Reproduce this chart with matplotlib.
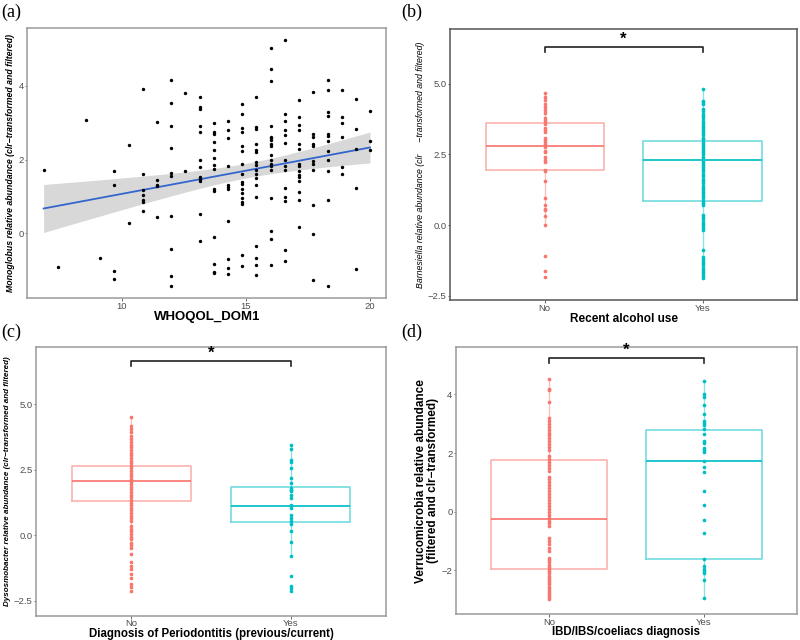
import numpy as np
import matplotlib
matplotlib.use("Agg")
import matplotlib.pyplot as plt

plt.rcParams['font.family'] = ['Liberation Sans', 'DejaVu Sans']

RED = '#F8766D'
CYAN = '#00BFC4'

# ---- panel (a): WHOQOL_DOM1 vs Monoglobus ----
dom1_levels = [6.86, 7.43, 8.57, 9.14, 9.71, 10.29, 10.86, 11.43, 12.0, 12.57, 13.14,
               13.71, 14.29, 14.86, 15.43, 16.0, 16.57, 17.14, 17.71, 18.29, 18.86,
               19.43, 20.0]
monoglobus_by_level = [
    [1.71],
    [-0.92],
    [3.06],
    [-0.68],
    [1.69, 1.32, -1.01, -1.25],
    [2.40, 0.29],
    [3.91, 1.62, 1.17, 1.04, 0.90, 0.86, 0.61],
    [3.01, 1.44, 1.32, 1.28, 0.43],
    [4.17, 3.52, 2.92, 2.32, 1.64, 1.56, 0.47, -0.43, -1.17, -1.42],
    [3.81, 1.69],
    [3.69, 3.42, 3.37, 2.92, 2.75, 1.99, 1.79, 1.53, 1.48, 1.41, 0.52, -0.20],
    [2.99, 2.75, 2.70, 2.48, 2.27, 2.05, 1.86, 1.75, 1.21, 1.16, -0.09, -0.83, -1.04, -1.08],
    [3.04, 2.81, 2.58, 1.82, 1.31, 1.25, 1.21, 0.33, -0.70, -0.95, -1.10],
    [3.51, 3.23, 2.86, 2.74, 2.38, 2.23, 1.89, 1.62, 1.40, 1.35, 1.20, 1.08, 0.97, 0.85,
     0.79, -0.59, -0.89],
    [3.69, 2.88, 2.83, 2.41, 2.25, 2.21, 1.94, 1.85, 1.73, 1.60, 1.50, 1.31, 0.99, -0.34,
     -0.67, -0.85, -1.12],
    [5.02, 4.46, 4.14, 2.90, 2.62, 2.58, 2.52, 2.41, 2.38, 2.12, 2.00, 1.89, 1.83, 1.71,
     0.97, 0.06, -0.16, -0.85],
    [5.24, 3.24, 3.05, 2.81, 2.66, 2.45, 2.00, 1.83, 1.71, 1.22, 0.99, 0.87, -0.45, -0.74],
    [3.62, 3.15, 2.95, 2.80, 2.41, 2.28, 1.87, 1.83, 1.69, 1.59, 1.54, 1.41, 1.12, 0.90, 0.16],
    [3.83, 2.68, 2.60, 2.42, 2.38, 1.96, 1.87, 1.73, 0.77, -0.02, -1.26],
    [4.17, 3.89, 3.30, 3.19, 2.68, 2.65, 2.49, 2.23, 1.98, 1.68, 0.90, -1.42],
    [3.89, 3.15, 3.00, 2.61, 1.80, 1.60],
    [3.64, 2.83, 2.28, 1.24, -0.98],
    [3.33, 2.50, 2.26],
]

# ---- panel (b): recent alcohol use vs Barnesiella ----
groups = ['No', 'Yes']
barnesiella_no = [4.67, 4.53, 4.41, 4.29, 4.17, 4.08, 3.96, 3.80, 3.73, 3.64, 3.59, 3.43,
                  3.35, 3.29, 3.09, 3.02, 2.94, 2.86, 2.76, 2.64, 2.58, 2.41, 2.31, 2.22,
                  1.96, 1.91, 1.55, 0.97, 0.70, 0.58, 0.52, 0.31, 0.02, -1.10, -1.62, -1.83]
barnesiella_yes = [4.82, 4.40, 4.35, 4.30, 4.10, 4.02, 3.94, 3.85, 3.78, 3.70, 3.62, 3.55,
                   3.48, 3.40, 3.33, 3.25, 3.18, 3.10, 3.03, 2.95, 2.88, 2.80, 2.72, 2.65,
                   2.57, 2.50, 2.42, 2.35, 2.28, 2.20, 2.12, 2.05, 1.97, 1.90, 1.82, 1.75,
                   1.62, 1.55, 1.48, 1.40, 1.32, 1.25, 1.17, 1.10, 1.02, 0.95, 0.87, 0.80,
                   0.70, 0.35, 0.30, 0.23, 0.10, 0.05, -0.02, -0.10, -0.18, -0.87, -1.13,
                   -1.20, -1.28, -1.35, -1.42, -1.50, -1.57, -1.65, -1.72, -1.80, -1.88]
barnesiella_box = {'q1': [1.94, 0.87], 'med': [2.80, 2.30], 'q3': [3.61, 2.99],
                   'lo': [0.02, -1.88], 'hi': [4.67, 4.82]}

# ---- panel (c): periodontitis vs Dysosmobacter ----
dysosmo_no = [4.53, 4.18, 4.06, 3.93, 3.80, 3.68, 3.55, 3.45, 3.35, 3.25, 3.15, 3.05, 2.95,
              2.85, 2.75, 2.65, 2.55, 2.45, 2.35, 2.25, 2.15, 2.05, 1.95, 1.85, 1.75, 1.65,
              1.55, 1.45, 1.35, 1.25, 1.15, 1.05, 0.95, 0.85, 0.75, 0.65, 0.55, 0.35, 0.25,
              0.15, 0.05, -0.05, -0.15, -0.28, -0.38, -0.47, -0.72, -1.04, -1.16, -1.28,
              -1.48, -1.63, -1.86, -1.98, -2.11]
dysosmo_yes = [3.43, 3.28, 2.86, 2.80, 2.55, 2.17, 1.98, 1.79, 1.73, 1.67, 1.54, 1.42, 1.14,
               1.04, 0.76, 0.66, 0.54, 0.42, 0.17, -0.26, -0.79, -1.54, -1.92, -2.01, -2.11]
dysosmo_box = {'q1': [1.30, 0.49], 'med': [2.06, 1.12], 'q3': [2.66, 1.83],
               'lo': [-0.47, -0.79], 'hi': [4.53, 3.43]}

# ---- panel (d): IBD/IBS/coeliacs vs Verrucomicrobia ----
verruco_no = [4.53, 4.19, 4.14, 3.75, 3.21, 3.10, 3.00, 2.90, 2.80, 2.70, 2.60, 2.50, 2.40,
              2.30, 2.20, 2.10, 1.90, 1.80, 1.70, 1.60, 1.50, 1.40, 1.20, 1.10, 1.00, 0.90,
              0.80, 0.70, 0.60, 0.50, 0.40, 0.30, 0.20, 0.10, 0.00, -0.10, -0.20, -0.30,
              -0.40, -0.50, -0.90, -1.00, -1.10, -1.22, -1.35, -1.58, -1.65, -1.72, -1.80,
              -1.88, -1.95, -2.02, -2.10, -2.18, -2.25, -2.32, -2.40, -2.48, -2.55, -2.62,
              -2.70, -2.78, -2.85, -2.92, -2.98]
verruco_yes = [4.45, 4.02, 3.91, 3.65, 3.33, 3.10, 3.04, 2.95, 2.81, 2.65, 2.40, 2.36, 2.18,
               2.12, 2.03, 1.73, 1.53, 1.35, 0.72, 0.22, -0.27, -0.71, -1.60, -1.86, -1.94,
               -2.01, -2.08, -2.34, -2.93]
verruco_box = {'q1': [-1.96, -1.60], 'med': [-0.24, 1.74], 'q3': [1.76, 2.80],
               'lo': [-2.98, -2.93], 'hi': [4.53, 4.45]}


def style_axes(ax, spine_color):
    for s in ax.spines.values():
        s.set_color(spine_color)
        s.set_linewidth(1.1)
    ax.tick_params(colors='#4D4D4D', labelsize=6.8, length=1.8, width=0.6, pad=0.8)


def fmt_minus(v, decimals):
    s = f'{v:.{decimals}f}'
    return s.replace('-', '\u2212')


def boxpanel(ax, no_vals, yes_vals, box, ylim, yticks, decimals, bracket_y, spine_color):
    colors = [RED, CYAN]
    for i in range(2):
        st = {'med': box['med'][i], 'q1': box['q1'][i], 'q3': box['q3'][i],
              'whislo': box['lo'][i], 'whishi': box['hi'][i], 'fliers': []}
        ax.bxp([st], positions=[i + 1], widths=0.75, showcaps=False,
               showfliers=False, patch_artist=False,
               boxprops=dict(color=colors[i], alpha=0.55, linewidth=1.2),
               whiskerprops=dict(color=colors[i], alpha=0.45, linewidth=1.0),
               medianprops=dict(color=colors[i], alpha=0.95, linewidth=1.3))
    for i, vals in enumerate([no_vals, yes_vals]):
        ax.scatter(np.full(len(vals), i + 1), vals, s=7, color=colors[i], zorder=3,
                   linewidths=0)
    ax.set_xlim(0.4, 2.6)
    ax.set_ylim(*ylim)
    ax.set_xticks([1, 2])
    ax.set_xticklabels(groups)
    ax.set_yticks(yticks)
    ax.set_yticklabels([fmt_minus(v, decimals) for v in yticks])
    tick_h = (ylim[1] - ylim[0]) * 0.018
    ax.plot([1, 1, 2, 2], [bracket_y - tick_h, bracket_y, bracket_y, bracket_y - tick_h],
            color='#222222', lw=1.2)
    ax.text(1.5, bracket_y, '*', ha='center', va='bottom', fontsize=12, fontweight='bold')
    style_axes(ax, spine_color)


fig = plt.figure(figsize=(8, 6.4), dpi=100)

# (a)
ax_a = fig.add_axes([0.034, 0.534, 0.449, 0.423])
xs = np.concatenate([np.full(len(v), lv) for lv, v in zip(dom1_levels, monoglobus_by_level)])
ys = np.concatenate([np.array(v) for v in monoglobus_by_level])
ax_a.scatter(xs, ys, s=6, color='black', zorder=3, linewidths=0)
slope, intercept = np.polyfit(xs, ys, 1)
n = len(xs)
resid = ys - (slope * xs + intercept)
se_res = np.sqrt(np.sum(resid ** 2) / (n - 2))
xg = np.linspace(xs.min(), xs.max(), 100)
yg = slope * xg + intercept
se_fit = se_res * np.sqrt(1 / n + (xg - xs.mean()) ** 2 / np.sum((xs - xs.mean()) ** 2))
ax_a.fill_between(xg, yg - 1.97 * se_fit, yg + 1.97 * se_fit, color='#BEBEBE', alpha=0.6,
                  linewidth=0, zorder=1)
ax_a.plot(xg, yg, color='#3366CC', lw=1.3, zorder=2)
ax_a.set_xlim(6.2, 20.66)
ax_a.set_ylim(-1.76, 5.58)
ax_a.set_xticks([10, 15, 20])
ax_a.set_yticks([0, 2, 4])
ax_a.set_xlabel('WHOQOL_DOM1', fontsize=9.5, fontweight='bold', labelpad=0)
ax_a.set_ylabel('Monoglobus relative abundance (clr\u2212transformed and filtered)',
                fontsize=6.3, fontweight='bold', fontstyle='italic', labelpad=2)
style_axes(ax_a, '#9A9A9A')

# (b)
ax_b = fig.add_axes([0.5625, 0.531, 0.434, 0.423])
boxpanel(ax_b, barnesiella_no, barnesiella_yes, barnesiella_box, (-2.65, 6.92),
         [-2.5, 0.0, 2.5, 5.0], 1, 6.29, '#555555')
ax_b.set_xlabel('Recent alcohol use', fontsize=8.5, fontweight='bold', labelpad=0)
ax_b.set_ylabel('Barnesiella relative abundance (clr     \u2212transformed and filtered)',
                fontsize=6.3, fontstyle='italic', labelpad=2)

# (c)
ax_c = fig.add_axes([0.045, 0.038, 0.4375, 0.420])
boxpanel(ax_c, dysosmo_no, dysosmo_yes, dysosmo_box, (-3.07, 7.19),
         [-2.5, 0.0, 2.5, 5.0], 1, 6.66, '#9A9A9A')
ax_c.set_xlabel('Diagnosis of Periodontitis (previous/current)', fontsize=8.3,
                fontweight='bold', labelpad=-0.5)
ax_c.set_ylabel('Dysosmobacter relative abundance (clr\u2212transformed and filtered)',
                fontsize=5.8, fontweight='bold', fontstyle='italic', labelpad=2)

# (d)
ax_d = fig.add_axes([0.57, 0.040, 0.426, 0.418])
boxpanel(ax_d, verruco_no, verruco_yes, verruco_box, (-3.50, 5.62),
         [-2, 0, 2, 4], 0, 5.24, '#9A9A9A')
ax_d.set_xlabel('IBD/IBS/coeliacs diagnosis', fontsize=8.3, fontweight='bold', labelpad=-0.5)
ax_d.set_ylabel('Verrucomicrobia relative abundance\n(filtered and clr\u2212transformed)',
                fontsize=8.5, fontweight='bold', labelpad=2, linespacing=1.0)

for lbl, (x, y) in zip(['(a)', '(b)', '(c)', '(d)'],
                       [(0.0, 0.995), (0.5, 0.995), (0.0, 0.495), (0.5, 0.495)]):
    fig.text(x + 0.002, y, lbl, fontsize=13, family='Liberation Serif', va='top', ha='left')

fig.savefig('out.png', dpi=100)
